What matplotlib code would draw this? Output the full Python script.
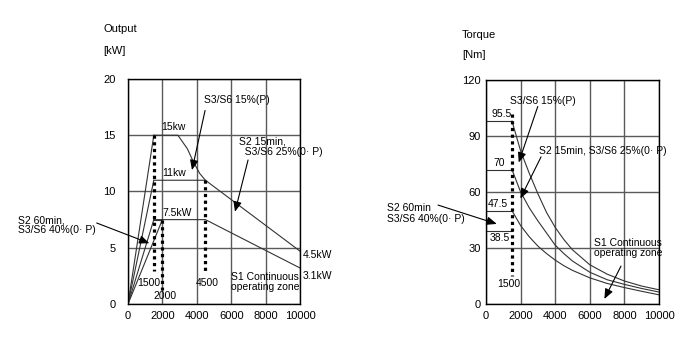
import matplotlib
matplotlib.use("Agg")
import matplotlib.pyplot as plt

plt.rcParams["font.family"] = ["Liberation Sans", "DejaVu Sans"]
plt.rcParams["font.size"] = 7.5

# ---- left panel: output power [kW] vs speed ----
ramp_rpm = [1500, 1500, 1500, 2000]
ramp_kw = [15, 11, 7.5, 7.5]

s3_15_rpm = [1500, 2900, 3450, 3780, 4170, 4500]
s3_15_kw = [15, 15, 13.8, 12.7, 11.6, 11]
s2_15_rpm = [1500, 4500, 10000]
s2_15_kw = [11, 11, 4.7]
s1_rpm = [1500, 4500, 10000]
s1_kw = [7.5, 7.5, 3.2]

dot_rpm = [1500, 2000, 4500]
dot_top = [15, 7.5, 11]
dot_bot = [2.9, 1.2, 2.9]

# ---- right panel: torque [Nm] vs speed ----
tq_levels = [98, 72, 50, 39]
tq_labels = ["95.5", "70", "47.5", "38.5"]
curve_rpm = [1500, 2000, 2500, 3000, 3500, 4000, 4500, 5000, 6000, 7000, 8000, 9000, 10000]
tq_s3_15 = [98, 82, 70, 59, 49, 41, 34.5, 29, 21, 16, 12.3, 9.6, 7.6]
tq_s2_15 = [72, 60, 51.5, 44.5, 38, 31.5, 27, 23, 17, 13, 10.5, 8.3, 6.4]
tq_s1 = [50, 42, 36, 31, 27, 23.5, 20.5, 18, 14, 11, 8.8, 6.8, 4.9]

LINE = "#333333"
GRID = "#5a5a5a"
DOTS = dict(color="black", lw=2.3, linestyle=(0, (1, 1.1)))
ARROW = dict(arrowstyle="-|>,head_length=0.6,head_width=0.25", color="black",
             lw=0.8, mutation_scale=10, shrinkA=0, shrinkB=0)

fig = plt.figure(figsize=(6.98, 3.46), dpi=100)
ax1 = fig.add_axes([0.1834, 0.1214, 0.2464, 0.6503])
ax2 = fig.add_axes([0.6963, 0.1214, 0.2479, 0.6474])

for ax in (ax1, ax2):
    ax.set_xlim(0, 10000)
    ax.set_xticks([0, 2000, 4000, 6000, 8000, 10000])
    ax.grid(True, color=GRID, lw=1)
    ax.set_axisbelow(True)
    ax.tick_params(length=0, pad=5, labelsize=8)
    for s in ax.spines.values():
        s.set_color("black")
        s.set_linewidth(1)

# left
ax1.set_ylim(0, 20)
ax1.set_yticks([0, 5, 10, 15, 20])
ax1.tick_params(axis="y", pad=9)
for r, k in zip(ramp_rpm, ramp_kw):
    ax1.plot([0, r], [0, k], color=LINE, lw=0.8)
ax1.plot([1500, 2000], [7.5, 7.5], color=LINE, lw=0.8)
ax1.plot(s3_15_rpm, s3_15_kw, color=LINE, lw=0.8)
ax1.plot(s2_15_rpm, s2_15_kw, color=LINE, lw=0.8)
ax1.plot(s1_rpm, s1_kw, color=LINE, lw=0.8)
for r, t, b in zip(dot_rpm, dot_top, dot_bot):
    ax1.plot([r, r], [t, b], **DOTS)

ax1.text(2650, 15.7, "15kw", ha="center", va="center")
ax1.text(2700, 11.6, "11kw", ha="center", va="center")
ax1.text(2850, 8.1, "7.5kW", ha="center", va="center")
ax1.text(1220, 1.9, "1500", ha="center", va="center")
ax1.text(2150, 0.75, "2000", ha="center", va="center")
ax1.text(4600, 1.9, "4500", ha="center", va="center")
ax1.text(10170, 4.35, "4.5kW", ha="left", va="center", clip_on=False)
ax1.text(10170, 2.5, "3.1kW", ha="left", va="center", clip_on=False)
ax1.text(6000, 1.95, "S1 Continuous\noperating zone", ha="left", va="center",
         linespacing=1.0)
ax1.text(4420, 18.1, "S3/S6 15%(P)", ha="left", va="center")
ax1.text(6450, 14.0, "S2 15min,\n  S3/S6 25%(0· P)", ha="left", va="center",
         linespacing=1.05)
ax1.text(-6400, 7.0, "S2 60min,\nS3/S6 40%(0· P)", ha="left", va="center",
         linespacing=1.05, clip_on=False)
ax1.annotate("", xy=(3720, 11.9), xytext=(4480, 17.2), arrowprops=ARROW)
ax1.annotate("", xy=(6220, 8.2), xytext=(6980, 12.8), arrowprops=ARROW)
ax1.annotate("", xy=(1240, 5.4), xytext=(-1820, 7.2), arrowprops=ARROW,
             annotation_clip=False)
ax1.text(-0.145, 1.222, "Output", transform=ax1.transAxes, ha="left", va="center",
         fontsize=8)
ax1.text(-0.145, 1.124, "[kW]", transform=ax1.transAxes, ha="left", va="center",
         fontsize=8)

# right
ax2.set_ylim(0, 120)
ax2.set_yticks([0, 30, 60, 90, 120])
ax2.tick_params(axis="y", pad=4)
for lvl in tq_levels:
    ax2.plot([0, 1500], [lvl, lvl], color=LINE, lw=0.8)
ax2.plot(curve_rpm, tq_s3_15, color=LINE, lw=0.8)
ax2.plot(curve_rpm, tq_s2_15, color=LINE, lw=0.8)
ax2.plot(curve_rpm, tq_s1, color=LINE, lw=0.8)
ax2.plot([1500, 1500], [102, 15], **DOTS)

ax2.text(900, 101.8, tq_labels[0], ha="center", va="center")
ax2.text(750, 75.5, tq_labels[1], ha="center", va="center")
ax2.text(700, 53.8, tq_labels[2], ha="center", va="center")
ax2.text(810, 35.4, tq_labels[3], ha="center", va="center")
ax2.text(1300, 10.5, "1500", ha="center", va="center")
ax2.text(1390, 108.5, "S3/S6 15%(P)", ha="left", va="center")
ax2.text(3080, 82, "S2 15min, S3/S6 25%(0· P)", ha="left", va="center")
ax2.text(6260, 30, "S1 Continuous\noperating zone", ha="left", va="center",
         linespacing=1.0)
ax2.text(-5740, 48.5, "S2 60min\nS3/S6 40%(0· P)", ha="left", va="center",
         linespacing=1.05, clip_on=False)
ax2.annotate("", xy=(1890, 75.8), xytext=(2990, 105.8), arrowprops=ARROW)
ax2.annotate("", xy=(1985, 56.5), xytext=(3180, 78.8), arrowprops=ARROW)
ax2.annotate("", xy=(6840, 2.7), xytext=(7800, 20.3), arrowprops=ARROW)
ax2.annotate("", xy=(620, 42.9), xytext=(-2775, 53), arrowprops=ARROW,
             annotation_clip=False)
ax2.text(-0.139, 1.201, "Torque", transform=ax2.transAxes, ha="left", va="center",
         fontsize=8)
ax2.text(-0.139, 1.112, "[Nm]", transform=ax2.transAxes, ha="left", va="center",
         fontsize=8)

fig.savefig("out.png", dpi=100)
plt.close(fig)
